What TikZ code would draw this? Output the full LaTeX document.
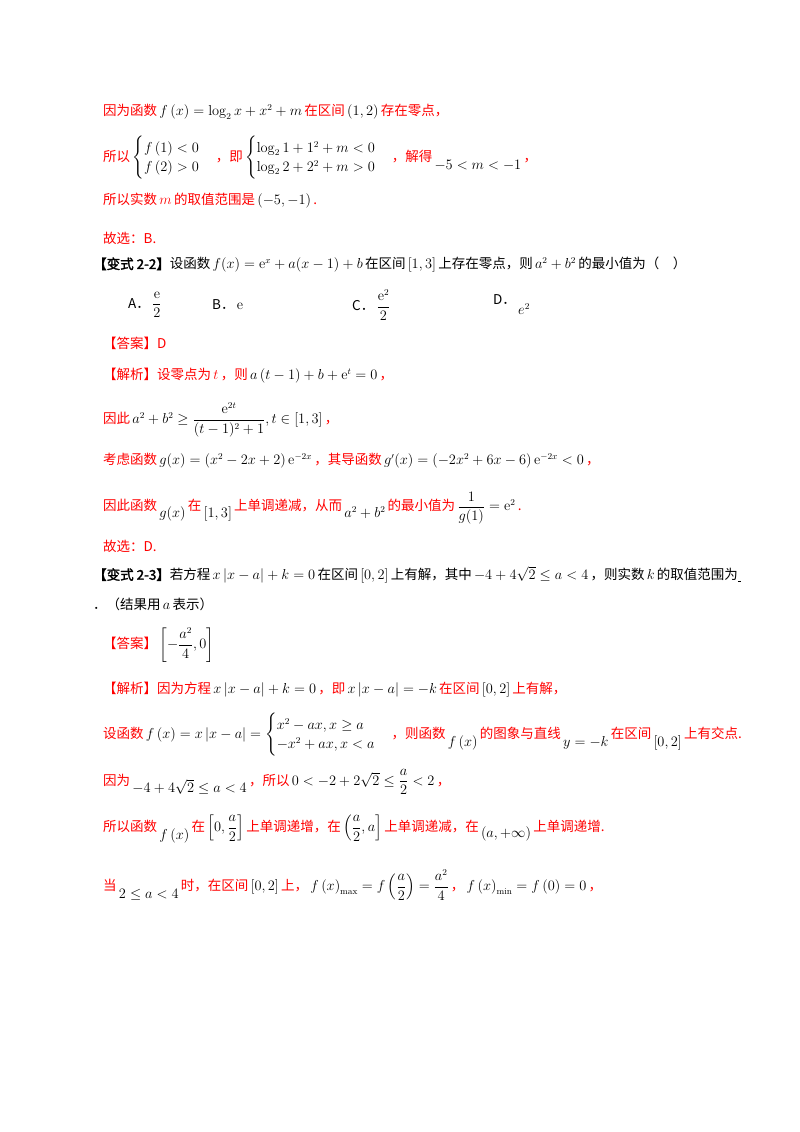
\documentclass[tikz,border=0pt]{standalone}
\usepackage{amsmath}
\usepackage[no-math]{fontspec}
\setmainfont{Noto Sans CJK SC}[AutoFakeBold=2]
\newcommand{\mk}[1]{{\color{black}\,$#1$\,}}
\begin{document}
\begin{tikzpicture}[x=1pt,y=-1pt,
  ln/.style={anchor=west,inner sep=0pt,text=red,font=\fontsize{13.5}{16}\selectfont},
  bk/.style={ln,text=black}]
\useasboundingbox[fill=white] (0,0) rectangle (800,1132);
\node[ln] (l1) at (103,112) {因为函数\mk{f\left(x\right)=\log_2 x+x^2+m}在区间\mk{\left(1,2\right)}存在零点，};
\node[ln] (l2) at (103,158) {所以\mk{\begin{cases}f\left(1\right)<0\\ f\left(2\right)>0\end{cases}}，即\mk{\begin{cases}\log_2 1+1^2+m<0\\ \log_2 2+2^2+m>0\end{cases}}，解得\raisebox{-8pt}{\mk{-5<m<-1}}，};
\node[ln] (l3) at (103,201) {所以实数\mk{\color{red}m}的取值范围是\mk{\left(-5,-1\right)}.};
\node[ln] (l4) at (103,238) {故选：B.};
\node[bk] (q1) at (93,265) {\textbf{【变式 2-2】}设函数\mk{f(x)=\mathrm{e}^x+a(x-1)+b}在区间\mk{[1,3]}上存在零点，则\mk{a^2+b^2}的最小值为（\quad）};
\node[bk] (cA) at (128,305) {A．\mk{\dfrac{\mathrm e}{2}}};
\node[bk] (cB) at (212,305) {B．\mk{\mathrm e}};
\node[bk] (cC) at (352,305) {C．\mk{\dfrac{\mathrm e^2}{2}}};
\node[bk] (cD) at (493,305) {D．\raisebox{-10pt}{\mk{e^2}}};
\node[ln] (a1) at (103,343) {【答案】D};
\node[ln] (s1) at (103,376) {【解析】设零点为\mk{\color{red}t}，则\mk{a\left(t-1\right)+b+\mathrm e^t=0}，};
\node[ln] (s2) at (103,420) {因此\mk{a^2+b^2\ge\dfrac{\mathrm e^{2t}}{(t-1)^2+1},t\in\left[1,3\right]}，};
\node[ln] (s3) at (103,461) {考虑函数\mk{g(x)=\left(x^2-2x+2\right)\mathrm e^{-2x}}，其导函数\mk{g'(x)=\left(-2x^2+6x-6\right)\mathrm e^{-2x}<0}，};
\node[ln] (s4) at (103,508) {因此函数\raisebox{-7pt}{\mk{g(x)}}在\raisebox{-7pt}{\mk{[1,3]}}上单调递减，从而\raisebox{-7pt}{\mk{a^2+b^2}}的最小值为\mk{\dfrac{1}{g(1)}=\mathrm e^2}.};
\node[ln] (s5) at (103,546) {故选：D.};
\node[bk] (q2) at (93,575) {\textbf{【变式 2-3】}若方程\mk{x\left|x-a\right|+k=0}在区间\mk{\left[0,2\right]}上有解，其中\mk{-4+4\sqrt2\le a<4}，则实数\mk{k}的取值范围为\underline{\ }};
\node[bk] (q2b) at (93,604) {．（结果用\mk{a}表示）};
\node[ln] (a2) at (103,645) {【答案】\mk{\left[-\dfrac{a^2}{4},0\right]}};
\node[ln] (t1) at (103,690) {【解析】因为方程\mk{x\left|x-a\right|+k=0}，即\mk{x\left|x-a\right|=-k}在区间\mk{\left[0,2\right]}上有解，};
\node[ln] (t2) at (103,735) {设函数\mk{f\left(x\right)=x\left|x-a\right|=\begin{cases}x^2-ax,x\ge a\\ -x^2+ax,x<a\end{cases}}，则函数\raisebox{-8pt}{\mk{f\left(x\right)}}的图象与直线\raisebox{-8pt}{\mk{y=-k}}在区间\raisebox{-8pt}{\mk{\left[0,2\right]}}上有交点.};
\node[ln] (t3) at (103,782) {因为\raisebox{-7pt}{\mk{-4+4\sqrt2\le a<4}}，所以\mk{0<-2+2\sqrt2\le\dfrac a2<2}，};
\node[ln] (t4) at (103,829) {所以函数\raisebox{-8pt}{\mk{f\left(x\right)}}在\mk{\left[0,\dfrac a2\right]}上单调递增，在\mk{\left(\dfrac a2,a\right]}上单调递减，在\raisebox{-6pt}{\mk{\left(a,+\infty\right)}}上单调递增.};
\node[ln] (t5) at (103,885) {当\raisebox{-8pt}{\mk{2\le a<4}}时，在区间\mk{\left[0,2\right]}上，\mk{f\left(x\right)_{\max}=f\left(\dfrac a2\right)=\dfrac{a^2}{4}}，\mk{f\left(x\right)_{\min}=f\left(0\right)=0}，};
\end{tikzpicture}
\end{document}
